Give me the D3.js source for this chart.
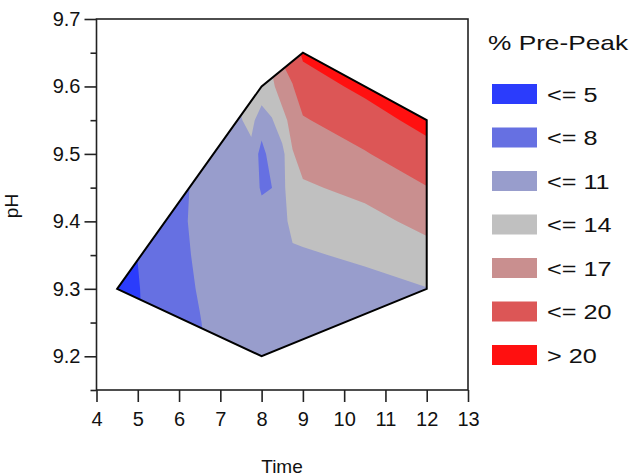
<!DOCTYPE html>
<html>
<head>
<meta charset="utf-8">
<script src="https://cdn.jsdelivr.net/npm/d3@7"></script>
<style>
  body { margin: 0; background: #fff; }
  text { font-family: "Liberation Sans", Arial, sans-serif; fill: #111; }
</style>
</head>
<body>
<svg id="chart" width="636" height="476"></svg>
<script>
// Mesh of the response surface: time nodes (x) and pH nodes (y)
const times = [4.5, 5, 5.5, 6, 6.5, 7, 7.5, 7.75, 8, 8.25, 8.5, 8.75, 9, 10.5, 12];
const phLevels = [9.2, 9.25, 9.3, 9.35, 9.4, 9.45, 9.5, 9.55, 9.6, 9.65];

// % pre-peak at each mesh node, one row per pH level, one value per time node
const pp920 = [3.6, 4.7, 6.1, 6.9, 7.7, 8.8, 9.4, 9.5, 9.6, 9.3, 9.2, 9.0, 8.8, 8.5, 9.0];
const pp925 = [3.6, 4.75, 6.2, 7.0, 7.9, 9.0, 9.5, 9.55, 9.6, 9.5, 9.4, 9.2, 9.0, 9.0, 9.8];
const pp930 = [3.6, 4.85, 6.2, 7.2, 8.2, 9.4, 9.6, 9.55, 9.5, 9.6, 9.7, 9.5, 9.2, 9.98, 10.9];
const pp935 = [3.6, 5.05, 6.25, 7.45, 8.4, 9.5, 9.7, 9.6, 9.4, 9.5, 10.0, 10.62, 10.65, 11.53, 12.9];
const pp940 = [3.6, 5.1, 6.3, 7.6, 8.55, 9.7, 9.8, 9.6, 9.3, 9.2, 10.3, 11.68, 12.1, 13.07, 14.85];
const pp945 = [3.6, 5.1, 6.3, 7.5, 8.5, 9.8, 9.8, 9.7, 7.6, 7.99, 10.3, 12.74, 13.6, 14.8, 16.9];
const pp950 = [3.6, 5.1, 6.3, 7.4, 8.4, 9.9, 9.8, 10.4, 6.8, 9.6, 10.2, 13.8, 15.15, 16.8, 18.9];
const pp955 = [3.6, 5.1, 6.3, 7.4, 8.6, 10.2, 10.9, 11.6, 9.8, 10.8, 12.8, 15.3, 16.75, 18.7, 21.0];
const pp960 = [3.6, 5.1, 6.3, 7.4, 8.8, 10.6, 11.6, 12.3, 12.5, 13.3, 15.8, 16.87, 18.6, 20.7, 23.0];
const pp965 = [3.6, 5.1, 6.3, 7.4, 9.0, 10.9, 12.0, 13.0, 14.0, 15.0, 17.5, 18.5, 20.5, 22.6, 25.0];
const prePeakRows = [pp920, pp925, pp930, pp935, pp940, pp945, pp950, pp955, pp960, pp965];

// Boundary of the experimental region (convex hull of the design points)
const hullTime = [4.5, 8, 9, 12, 12, 8];
const hullPH = [9.3, 9.6, 9.65, 9.55, 9.3, 9.2];

// Contour levels, legend labels and band colours
const levels = [5, 8, 11, 14, 17, 20];
const bandLabels = ["<= 5", "<= 8", "<= 11", "<= 14", "<= 17", "<= 20", "> 20"];
const bandColors = ["#2b3cfc", "#6670e2", "#989dcc", "#c0c0c0", "#c98f8f", "#dc5656", "#ff1010"];

// Axis ticks
const xTicks = [4, 5, 6, 7, 8, 9, 10, 11, 12, 13];
const yMajor = [9.2, 9.3, 9.4, 9.5, 9.6, 9.7];
const yMinor = [9.15, 9.25, 9.35, 9.45, 9.55, 9.65];

const svg = d3.select("#chart");
const x = d3.scaleLinear().domain([4, 13]).range([96.5, 468]);
const y = d3.scaleLinear().domain([9.15, 9.7]).range([390, 19]);

// mesh index -> data coordinate (piecewise linear over the node positions)
const idxTime = d3.scaleLinear().domain(d3.range(times.length)).range(times);
const idxPH = d3.scaleLinear().domain(d3.range(phLevels.length)).range(phLevels);

const nx = times.length, ny = phLevels.length;
const grid = prePeakRows.flat();

const contours = d3.contours().size([nx, ny]).thresholds(levels)(grid);

const meshToScreen = d3.geoTransform({
  point(px, py) {
    this.stream.point(x(idxTime(px - 0.5)), y(idxPH(py - 0.5)));
  }
});
const path = d3.geoPath(meshToScreen);

const hullPts = hullTime.map((t, i) => [x(t), y(hullPH[i])]);
const hullD = "M" + hullPts.map(p => p.join(",")).join("L") + "Z";

svg.append("defs").append("clipPath").attr("id", "hull")
  .append("path").attr("d", hullD);

const plot = svg.append("g").attr("clip-path", "url(#hull)");
plot.append("path").attr("d", hullD).attr("fill", bandColors[0]);
plot.selectAll("path.band").data(contours).join("path")
  .attr("class", "band")
  .attr("d", path)
  .attr("fill", (d, i) => bandColors[i + 1]);

svg.append("path").attr("d", hullD)
  .attr("fill", "none").attr("stroke", "#000")
  .attr("stroke-width", 2).attr("stroke-linejoin", "miter");

// Frame
svg.append("rect")
  .attr("x", x(4)).attr("y", y(9.7))
  .attr("width", x(13) - x(4)).attr("height", y(9.15) - y(9.7))
  .attr("fill", "none").attr("stroke", "#222").attr("stroke-width", 1.6);

// Axes
const fs = 20;
const xAxis = svg.append("g").attr("transform", `translate(0,${y(9.15)})`)
  .call(d3.axisBottom(x).tickValues(xTicks).tickSize(12).tickPadding(10).tickFormat(d3.format("d")));
const yAxis = svg.append("g").attr("transform", `translate(${x(4)},0)`)
  .call(d3.axisLeft(y).tickValues(yMajor).tickSize(12).tickPadding(4).tickFormat(d3.format(".1f")));
const yAxisMinor = svg.append("g").attr("transform", `translate(${x(4)},0)`)
  .call(d3.axisLeft(y).tickValues(yMinor).tickSize(6).tickFormat(""));
[xAxis, yAxis, yAxisMinor].forEach(g => {
  g.select(".domain").remove();
  g.selectAll("line").attr("stroke", "#222").attr("stroke-width", 1.6);
  g.selectAll("text").attr("font-size", fs).attr("fill", "#111")
    .style("font-family", '"Liberation Sans", Arial, sans-serif');
});

// Axis titles
svg.append("text").attr("x", 282).attr("y", 473)
  .attr("text-anchor", "middle").attr("font-size", 19).text("Time");
svg.append("text").attr("transform", "translate(18,206) rotate(-90)")
  .attr("text-anchor", "middle").attr("font-size", 19).text("pH");

// Legend (text set slightly wide)
const legend = svg.append("g");
legend.append("text").attr("transform", "translate(488,50) scale(1.25,1)")
  .attr("font-size", 21).text("% Pre-Peak");
const item = legend.selectAll("g.item").data(bandLabels).join("g")
  .attr("class", "item")
  .attr("transform", (d, i) => `translate(492,${94 + i * 43.5})`);
item.append("rect").attr("x", 0).attr("y", -10).attr("width", 45).attr("height", 20)
  .attr("fill", (d, i) => bandColors[i]);
item.append("text").attr("transform", "translate(55,7.5) scale(1.2,1)")
  .attr("font-size", 21).text(d => d);
</script>
</body>
</html>
